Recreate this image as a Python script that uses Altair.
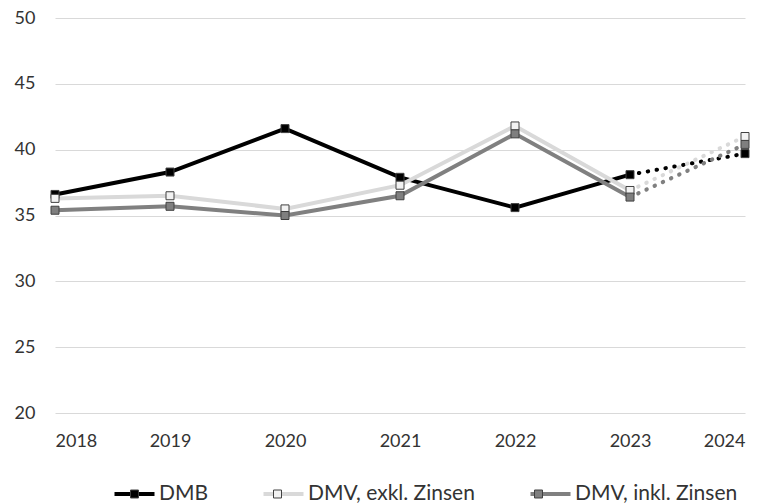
import altair as alt
import pandas as pd

years = [2018, 2019, 2020, 2021, 2022, 2023, 2024]
series_names = ["DMB", "DMV, exkl. Zinsen", "DMV, inkl. Zinsen"]
dmb = [36.6, 38.3, 41.6, 37.9, 35.6, 38.1, 39.7]
dmv_exkl = [36.3, 36.5, 35.5, 37.3, 41.8, 36.9, 41.0]
dmv_inkl = [35.4, 35.7, 35.0, 36.5, 41.2, 36.4, 40.4]
y_ticks = [20, 25, 30, 35, 40, 45, 50]

line_colors = ["#000000", "#d9d9d9", "#808080"]
marker_fills = ["#000000", "#f2f2f2", "#7f7f7f"]

rows = []
for name, vals in zip(series_names, [dmb, dmv_exkl, dmv_inkl]):
    for yr, v in zip(years, vals):
        rows.append({"Jahr": yr, "Wert": v, "Reihe": name, "Reihe2": name})
df = pd.DataFrame(rows)

FONT = "Lato"
TXT = "#333333"

x = alt.X(
    "Jahr:Q",
    scale=alt.Scale(domain=[2018, 2024], nice=False, zero=False),
    axis=alt.Axis(values=years, format="d", title=None, grid=False, ticks=False,
                  domain=False, labelPadding=19, labelFontSize=18, labelFont=FONT,
                  labelColor=TXT),
)
y = alt.Y(
    "Wert:Q",
    scale=alt.Scale(domain=[20, 50], nice=False, zero=False),
    axis=alt.Axis(values=y_ticks, title=None, grid=True, gridColor="#d9d9d9",
                  gridWidth=1, ticks=False, domain=False, labelPadding=20,
                  labelFontSize=18, labelFont=FONT, labelColor=TXT),
)

common_legend = dict(
    title=None, orient="none", legendX=57.5, legendY=454, direction="horizontal",
    labelFontSize=21, labelFont=FONT, labelColor=TXT, labelOffset=2.5,
    columnPadding=47, padding=0, labelLimit=400,
)

stroke_enc = alt.Stroke(
    "Reihe:N",
    scale=alt.Scale(domain=series_names, range=line_colors),
    legend=alt.Legend(symbolType="M-1,0H1", symbolSize=1600, symbolStrokeWidth=4,
                      **common_legend),
)

solid = alt.Chart(df).transform_filter(alt.datum.Jahr <= 2023).mark_line(
    strokeWidth=4
).encode(x=x, y=y, stroke=stroke_enc, order=alt.Order("Jahr:Q"))

dotted = alt.Chart(df).transform_filter(alt.datum.Jahr >= 2023).mark_line(
    strokeWidth=4, strokeDash=[0.5, 8.5], strokeCap="round"
).encode(
    x=x, y=y,
    stroke=alt.Stroke("Reihe:N", legend=None),
    order=alt.Order("Jahr:Q"),
)

points = alt.Chart(df).mark_point(
    shape="square", filled=True, size=64, stroke="#404040", strokeWidth=1, opacity=1
).encode(
    x=x, y=y,
    fill=alt.Fill(
        "Reihe2:N",
        scale=alt.Scale(range=marker_fills),
        legend=alt.Legend(symbolType="M-0.186,-0.186H0.186V0.186H-0.186Z",
                          symbolSize=1849, symbolStrokeWidth=1,
                          symbolStrokeColor="#404040", labelOpacity=0, zindex=1,
                          **common_legend),
    ),
)

chart = alt.layer(solid, dotted, points).resolve_legend(fill="independent").properties(
    width=690, height=395,
    autosize=alt.AutoSizeParams(type="none"),
    padding={"left": 47, "top": 10, "right": 17, "bottom": 100},
).configure(background="white").configure_view(strokeWidth=0, stroke="transparent")

chart.save("out.html", embed_options={"renderer": "svg", "actions": False})
